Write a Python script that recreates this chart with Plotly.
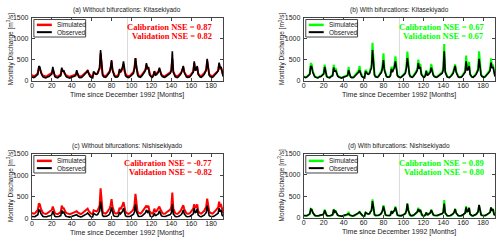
import plotly.graph_objects as go

W, H = 500, 243

months = list(range(193))

obs_kita = [
    90, 80, 75, 85, 110, 120, 150, 350, 330, 200, 120, 95,
    80, 70, 65, 80, 100, 95, 110, 130, 160, 330, 150, 100,
    80, 75, 70, 90, 110, 120, 310, 220, 250, 150, 110, 90,
    75, 65, 60, 75, 90, 85, 100, 110, 120, 250, 120, 90,
    75, 70, 80, 100, 120, 140, 180, 200, 250, 170, 110, 90,
    75, 70, 220, 180, 160, 150, 170, 250, 300, 730, 250, 130,
    95, 85, 80, 100, 130, 150, 200, 300, 490, 240, 130, 100,
    85, 80, 90, 120, 280, 200, 250, 320, 460, 200, 120, 95,
    80, 75, 85, 100, 120, 150, 180, 300, 540, 300, 150, 100,
    85, 80, 100, 130, 160, 200, 250, 420, 280, 330, 150, 100,
    85, 80, 120, 230, 130, 140, 180, 200, 310, 200, 130, 100,
    85, 80, 90, 110, 130, 140, 150, 180, 250, 700, 200, 110,
    90, 80, 75, 90, 110, 140, 180, 250, 350, 200, 120, 95,
    80, 75, 85, 100, 130, 170, 200, 460, 250, 260, 350, 150,
    95, 85, 80, 95, 120, 150, 200, 250, 520, 250, 130, 100,
    85, 80, 90, 110, 140, 170, 200, 230, 430, 300, 330, 150,
    100]

sim_kita_nobif = [
    130, 115, 110, 115, 130, 150, 200, 300, 290, 210, 150, 125,
    110, 100, 100, 110, 130, 130, 150, 170, 190, 260, 170, 130,
    110, 105, 100, 115, 135, 150, 280, 230, 220, 170, 140, 120,
    105, 100, 95, 105, 120, 120, 135, 145, 150, 190, 140, 120,
    105, 100, 110, 130, 150, 170, 200, 220, 240, 180, 140, 120,
    105, 100, 180, 170, 160, 160, 180, 240, 290, 650, 280, 160,
    125, 115, 110, 130, 160, 180, 220, 300, 460, 260, 160, 130,
    115, 110, 120, 150, 240, 210, 240, 300, 390, 220, 150, 125,
    110, 105, 115, 130, 150, 180, 210, 300, 540, 300, 170, 130,
    115, 110, 130, 160, 190, 220, 260, 380, 290, 300, 170, 130,
    115, 110, 140, 220, 160, 165, 200, 220, 280, 210, 150, 125,
    110, 105, 115, 135, 155, 165, 175, 200, 260, 520, 220, 140,
    115, 110, 105, 120, 140, 165, 200, 250, 330, 210, 150, 125,
    110, 105, 115, 130, 160, 190, 220, 420, 260, 260, 310, 170,
    125, 115, 110, 125, 150, 175, 220, 260, 480, 260, 160, 130,
    115, 110, 120, 140, 170, 195, 220, 240, 400, 290, 300, 170,
    130]

sim_kita_bif = [
    100, 90, 85, 95, 120, 135, 170, 420, 390, 230, 135, 105,
    90, 80, 75, 90, 110, 110, 125, 150, 190, 380, 170, 110,
    90, 85, 80, 100, 125, 140, 380, 260, 300, 170, 125, 100,
    85, 75, 70, 85, 100, 95, 115, 125, 140, 330, 140, 100,
    85, 80, 90, 115, 140, 160, 210, 240, 350, 200, 125, 100,
    85, 80, 260, 210, 185, 175, 200, 290, 360, 900, 300, 150,
    105, 95, 90, 115, 150, 175, 235, 350, 650, 280, 150, 110,
    95, 90, 100, 140, 330, 230, 290, 380, 580, 230, 135, 105,
    90, 85, 95, 115, 140, 175, 210, 350, 690, 350, 170, 110,
    95, 90, 115, 150, 185, 230, 290, 500, 330, 400, 175, 110,
    95, 90, 140, 250, 150, 160, 210, 240, 400, 230, 150, 110,
    95, 90, 100, 125, 150, 160, 175, 210, 300, 870, 230, 125,
    100, 90, 85, 100, 125, 160, 210, 290, 390, 230, 135, 105,
    90, 85, 95, 115, 150, 195, 230, 600, 290, 300, 450, 170,
    105, 95, 90, 110, 140, 170, 230, 290, 700, 290, 150, 110,
    95, 90, 100, 125, 160, 195, 230, 270, 530, 350, 380, 170,
    110]

obs_nishi = [
    50, 45, 40, 45, 60, 70, 90, 200, 190, 120, 70, 55,
    45, 40, 38, 45, 55, 55, 65, 75, 90, 170, 85, 55,
    45, 42, 40, 50, 60, 70, 190, 130, 150, 90, 60, 50,
    42, 38, 35, 42, 50, 48, 55, 60, 65, 90, 65, 50,
    42, 40, 45, 55, 65, 75, 95, 110, 130, 95, 60, 50,
    42, 40, 120, 100, 90, 85, 95, 140, 170, 390, 140, 70,
    52, 48, 45, 55, 70, 80, 110, 160, 260, 130, 70, 55,
    48, 45, 50, 65, 150, 110, 135, 170, 240, 110, 65, 52,
    45, 42, 48, 55, 65, 80, 100, 160, 330, 160, 80, 55,
    48, 45, 55, 70, 90, 110, 135, 200, 150, 180, 80, 55,
    48, 45, 65, 120, 70, 75, 100, 110, 180, 110, 70, 55,
    48, 45, 50, 60, 70, 75, 80, 95, 130, 330, 110, 60,
    50, 45, 42, 50, 60, 75, 95, 130, 200, 110, 65, 52,
    45, 42, 48, 55, 70, 90, 110, 240, 140, 150, 230, 80,
    52, 48, 45, 52, 65, 80, 110, 140, 300, 140, 70, 55,
    48, 45, 50, 60, 75, 90, 110, 125, 240, 160, 200, 80,
    55]

sim_nishi_nobif = [
    130, 120, 115, 120, 140, 160, 200, 350, 330, 230, 160, 135,
    120, 110, 108, 115, 135, 135, 155, 175, 200, 280, 180, 135,
    115, 110, 105, 120, 140, 155, 300, 240, 240, 180, 145, 125,
    110, 105, 100, 110, 125, 125, 140, 150, 160, 170, 145, 125,
    110, 105, 115, 135, 155, 175, 210, 230, 230, 180, 145, 125,
    110, 105, 190, 175, 165, 165, 185, 250, 300, 700, 290, 165,
    130, 120, 115, 135, 165, 185, 230, 310, 450, 270, 165, 135,
    120, 115, 125, 155, 250, 215, 250, 310, 380, 230, 155, 130,
    115, 110, 120, 135, 155, 185, 215, 310, 570, 310, 175, 135,
    120, 115, 135, 165, 195, 230, 270, 300, 250, 300, 175, 135,
    120, 115, 145, 230, 165, 170, 210, 230, 280, 215, 155, 130,
    115, 110, 120, 140, 160, 170, 180, 210, 270, 600, 230, 145,
    120, 115, 110, 125, 145, 170, 210, 260, 310, 220, 155, 130,
    115, 110, 120, 135, 165, 195, 230, 330, 260, 270, 330, 175,
    130, 120, 115, 130, 155, 180, 230, 270, 460, 270, 165, 135,
    120, 115, 125, 145, 175, 200, 230, 250, 390, 290, 310, 175,
    135]

sim_nishi_bif = [
    45, 40, 36, 42, 55, 65, 85, 210, 200, 120, 65, 50,
    40, 36, 34, 40, 50, 50, 60, 70, 90, 190, 85, 50,
    40, 38, 36, 45, 55, 65, 200, 130, 150, 85, 55, 45,
    38, 34, 32, 38, 45, 44, 50, 55, 65, 140, 60, 45,
    38, 36, 40, 50, 60, 70, 90, 110, 150, 95, 55, 45,
    38, 36, 130, 100, 85, 80, 90, 140, 170, 430, 140, 65,
    48, 44, 40, 50, 65, 75, 105, 160, 290, 130, 65, 50,
    44, 40, 45, 60, 160, 105, 130, 170, 260, 105, 60, 48,
    40, 38, 44, 50, 60, 75, 95, 160, 330, 165, 75, 50,
    44, 40, 50, 65, 85, 105, 130, 230, 150, 190, 75, 50,
    44, 40, 60, 125, 65, 70, 95, 110, 190, 105, 65, 50,
    44, 40, 45, 55, 65, 70, 75, 90, 130, 410, 105, 55,
    45, 40, 38, 45, 55, 70, 90, 130, 210, 105, 60, 48,
    40, 38, 44, 50, 65, 85, 105, 270, 140, 150, 230, 75,
    48, 44, 40, 48, 60, 75, 105, 140, 290, 135, 65, 50,
    44, 40, 45, 55, 70, 85, 105, 120, 240, 155, 210, 75,
    50]

panel_titles = [
    "(a) Without bifurcations: Kitasekiyado",
    "(b) With bifurcations: Kitasekiyado",
    "(c) Without bifurcations: Nishisekiyado",
    "(d) With bifurcations: Nishisekiyado",
]
calib_nse = ["0.87", "0.67", "-0.77", "0.89"]
valid_nse = ["0.82", "0.67", "-0.82", "0.80"]
sim_series = [sim_kita_nobif, sim_kita_bif, sim_nishi_nobif, sim_nishi_bif]
obs_series = [obs_kita, obs_kita, obs_nishi, obs_nishi]
sim_colors = ["#ff0000", "#00ff00", "#ff0000", "#00ff00"]
split_month = 96
x_ticks = list(range(0, 181, 20))
y_ticks = [0, 500, 1000, 1500]

# pixel boxes of each axes: (left, right, top, bottom)
boxes = [(30, 222, 14, 79), (303, 495, 14, 79), (30, 222, 154, 221), (303, 495, 154, 220)]


def px(x):
    return x / W


def py(y):
    return 1 - y / H


fig = go.Figure()
annotations = []
shapes = []
layout_axes = {}
FONT = "Liberation Sans, Arial"

for i in range(4):
    xa = "x" if i == 0 else f"x{i+1}"
    ya = "y" if i == 0 else f"y{i+1}"
    xkey = "xaxis" if i == 0 else f"xaxis{i+1}"
    ykey = "yaxis" if i == 0 else f"yaxis{i+1}"
    l, r, t, b = boxes[i]
    common = dict(showline=True, linecolor="#444", linewidth=1, mirror="ticks",
                  ticks="inside", ticklen=3, tickcolor="#444", showgrid=False,
                  zeroline=False, tickfont=dict(size=7, color="#222", family=FONT))
    layout_axes[xkey] = dict(domain=[px(l), px(r)], range=[0, 192], tickvals=x_ticks,
                             anchor=ya, ticklabelstandoff=-2, **common)
    layout_axes[ykey] = dict(domain=[py(b), py(t)], range=[0, 1500], tickvals=y_ticks,
                             anchor=xa, ticklabelstandoff=1, **common)

    fig.add_trace(go.Scatter(x=months, y=sim_series[i], mode="lines", xaxis=xa, yaxis=ya,
                             line=dict(color=sim_colors[i], width=2), showlegend=False))
    fig.add_trace(go.Scatter(x=months, y=obs_series[i], mode="lines", xaxis=xa, yaxis=ya,
                             line=dict(color="black", width=1.6), showlegend=False))

    # calibration/validation split
    shapes.append(dict(type="line", xref=xa, yref=f"{ya} domain", x0=split_month, x1=split_month,
                       y0=0, y1=1, line=dict(color="#d0d0d0", width=0.8), layer="below"))

    cx = (l + r) / 2
    annotations.append(dict(text=panel_titles[i], x=px(cx), y=py(t - 8), xref="paper", yref="paper",
                            showarrow=False, xanchor="center", yanchor="middle",
                            font=dict(size=6.5, color="#222", family=FONT)))
    annotations.append(dict(text="Time since December 1992 [Months]", x=px(cx), y=py(b + 15),
                            xref="paper", yref="paper", showarrow=False, xanchor="center",
                            yanchor="middle", font=dict(size=7, color="#222", family=FONT)))
    annotations.append(dict(text="Monthly Discharge [m<sup>3</sup>/s]", x=px(l - 22), y=py((t + b) / 2),
                            xref="paper", yref="paper", showarrow=False, textangle=-90,
                            xanchor="center", yanchor="middle",
                            font=dict(size=6.5, color="#222", family=FONT)))
    nse_font = dict(size=8.5, color=sim_colors[i], family="Liberation Serif, Times New Roman")
    annotations.append(dict(text=f"<b>Calibration NSE = {calib_nse[i]}</b>", x=px(r - 9), y=py(t + 10),
                            xref="paper", yref="paper", showarrow=False, xanchor="right",
                            yanchor="middle", font=nse_font))
    annotations.append(dict(text=f"<b>Validation NSE = {valid_nse[i]}</b>", x=px(r - 9), y=py(t + 19),
                            xref="paper", yref="paper", showarrow=False, xanchor="right",
                            yanchor="middle", font=nse_font))

    # legend box
    bl, bt = l + 2, t + 2
    shapes.append(dict(type="rect", xref="paper", yref="paper", x0=px(bl), x1=px(bl + 52),
                       y0=py(bt), y1=py(bt + 18), line=dict(color="#444", width=1),
                       fillcolor="white", layer="above"))
    shapes.append(dict(type="line", xref="paper", yref="paper", x0=px(bl + 3), x1=px(bl + 18),
                       y0=py(bt + 5.5), y1=py(bt + 5.5), line=dict(color=sim_colors[i], width=2.5)))
    shapes.append(dict(type="line", xref="paper", yref="paper", x0=px(bl + 3), x1=px(bl + 18),
                       y0=py(bt + 13), y1=py(bt + 13), line=dict(color="black", width=2)))
    for txt, yy in (("Simulated", bt + 5.5), ("Observed", bt + 13)):
        annotations.append(dict(text=txt, x=px(bl + 21), y=py(yy), xref="paper", yref="paper",
                                showarrow=False, xanchor="left", yanchor="middle",
                                font=dict(size=6.5, color="#222", family=FONT)))

fig.update_layout(width=W, height=H, margin=dict(l=0, r=0, t=0, b=0),
                  paper_bgcolor="white", plot_bgcolor="white",
                  annotations=annotations, shapes=shapes, showlegend=False, **layout_axes)

fig.write_html("out.html", config={"displayModeBar": False},
               post_script="document.body.style.margin='0px';")
